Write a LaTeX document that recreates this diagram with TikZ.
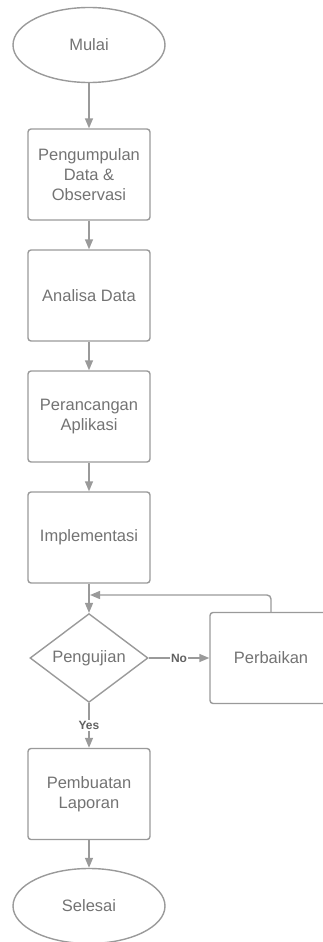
\documentclass[tikz,border=0pt]{standalone}
\usepackage{fontspec}
\setmainfont{Liberation Sans}
\usetikzlibrary{positioning, calc}
\usetikzlibrary{arrows.meta}
\usetikzlibrary{shapes}
\definecolor{linegray}{HTML}{9A9A9A}
\definecolor{textgray}{HTML}{737373}

\begin{document}
\begin{tikzpicture}[x=1pt,y=-1pt,draw=linegray,line width=1.4pt,>={Triangle[length=10pt,width=8pt]}]
	\def \colx{89}
	\def \sidex{271}
	\tikzstyle{e-node}=[ellipse,draw,minimum width=152pt,minimum height=75pt,inner sep=0pt,text=textgray,font=\fontsize{16.5}{20}\selectfont]
	\tikzstyle{p-node}=[rectangle,draw,rounded corners=3pt,minimum width=122pt,minimum height=91pt,inner sep=0pt,align=center,text=textgray,font=\fontsize{16.5}{20}\selectfont]
	\tikzstyle{q-node}=[diamond,draw,minimum width=118pt,minimum height=88pt,inner sep=0pt,text=textgray,font=\fontsize{16.5}{20}\selectfont]
	\tikzstyle{annot}=[fill=white,inner sep=1pt,text=textgray!85!black,font=\fontsize{12}{14}\selectfont\bfseries]
	\useasboundingbox (0,0) rectangle (323,942);

	% start and end
	\node[e-node] 	(s0)	at (\colx,45)		{Mulai};
	\node[e-node] 	(s1)	at (\colx,906)		{Selesai};

	% process steps
	\node[p-node] 	(p1)	at (\colx,174.5)	{Pengumpulan\\Data \&\\Observasi};
	\node[p-node] 	(p2)	at (\colx,295.5)	{Analisa Data};
	\node[p-node] 	(p3)	at (\colx,416.5)	{Perancangan\\Aplikasi};
	\node[p-node] 	(p4)	at (\colx,537.5)	{Implementasi};
	\node[p-node] 	(p5)	at (\colx,794)		{Pembuatan\\Laporan};

	% test and repair
	\node[q-node] 	(q0)	at (\colx,658)		{Pengujian};
	\node[p-node] 	(r0)	at (\sidex,658)		{Perbaikan};
	\coordinate	(fb)	at (\colx+1,595);

	\path[->]
		(s0)	edge	(p1)
		(p1)	edge	(p2)
		(p2)	edge	(p3)
		(p3)	edge	(p4)
		(p4)	edge	(q0)
		%
		(q0)	edge	node[annot]	{No}	(r0)
		(q0)	edge	node[annot]	{Yes}	(p5)
		(p5)	edge	(s1);
	\draw[->,rounded corners=4pt] (r0.north) |- (fb);
\end{tikzpicture}
\end{document}
